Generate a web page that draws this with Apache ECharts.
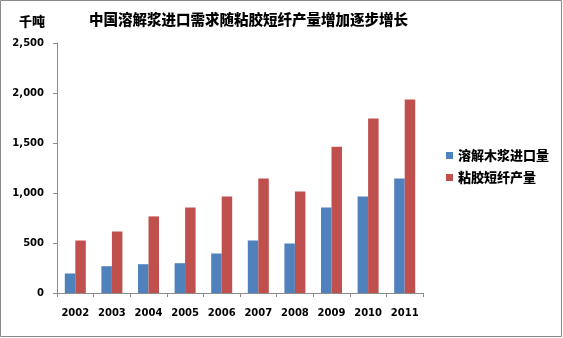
<!DOCTYPE html>
<html>
<head>
<meta charset="utf-8">
<script src="https://cdn.jsdelivr.net/npm/echarts@6/dist/echarts.min.js"></script>
<style>
  html, body { margin: 0; padding: 0; background: #fff; }
  #chart { width: 563px; height: 338px; }
</style>
</head>
<body>
<div id="chart"></div>
<script>
// 年份
const years = ['2002', '2003', '2004', '2005', '2006', '2007', '2008', '2009', '2010', '2011'];
// 溶解木浆进口量（千吨）
const pulpImports = [195, 268, 288, 298, 395, 525, 495, 856, 966, 1146];
// 粘胶短纤产量（千吨）
const viscoseOutput = [525, 615, 766, 856, 966, 1146, 1016, 1463, 1744, 1934];
// 纵轴刻度
const yTicks = [0, 500, 1000, 1500, 2000, 2500];

const cjk = '"Noto Sans CJK SC", sans-serif';
const num = '"DejaVu Sans", sans-serif';
const axisGray = '#8c8c8c';

const chart = echarts.init(document.getElementById('chart'), null, { renderer: 'canvas' });
chart.setOption({
  animation: false,
  backgroundColor: '#fff',
  title: {
    text: '中国溶解浆进口需求随粘胶短纤产量增加逐步增长',
    left: 84,
    top: 7,
    textStyle: { fontFamily: cjk, fontSize: 14.5, fontWeight: 900, color: '#000' }
  },
  graphic: [
    {
      type: 'rect',
      shape: { x: 0.5, y: 0.5, width: 561, height: 336 },
      style: { fill: 'none', stroke: '#8a8a8a', lineWidth: 1 },
      silent: true
    },
    {
      type: 'text',
      left: 19,
      top: 15,
      style: { text: '千吨', font: '900 13px ' + cjk, fill: '#000' }
    }
  ],
  legend: {
    orient: 'vertical',
    left: 446,
    top: 149,
    padding: 0,
    itemWidth: 7,
    itemHeight: 7,
    itemGap: 9,
    icon: 'rect',
    textStyle: { fontFamily: cjk, fontSize: 13, fontWeight: 900, color: '#000' },
    data: ['溶解木浆进口量', '粘胶短纤产量']
  },
  grid: { left: 57, right: 140, top: 43, bottom: 45, containLabel: false },
  xAxis: {
    type: 'category',
    data: years,
    axisLine: { lineStyle: { color: axisGray, width: 1 } },
    axisTick: { show: true, length: 4, lineStyle: { color: axisGray } },
    axisLabel: { fontFamily: num, fontSize: 10, fontWeight: 'bold', color: '#000', margin: 15 }
  },
  yAxis: {
    type: 'value',
    min: yTicks[0],
    max: yTicks[yTicks.length - 1],
    interval: yTicks[1] - yTicks[0],
    axisLine: { show: true, lineStyle: { color: axisGray, width: 1 } },
    axisTick: { show: true, length: 4, lineStyle: { color: axisGray } },
    splitLine: { show: false },
    axisLabel: {
      fontFamily: num, fontSize: 10, fontWeight: 'bold', color: '#000', margin: 13,
      formatter: v => v.toLocaleString('en-US')
    }
  },
  series: [
    {
      name: '溶解木浆进口量',
      type: 'bar',
      data: pulpImports,
      barWidth: 10.5,
      barGap: '0%',
      itemStyle: { color: '#4F81BD' }
    },
    {
      name: '粘胶短纤产量',
      type: 'bar',
      data: viscoseOutput,
      barWidth: 10.5,
      barGap: '0%',
      itemStyle: { color: '#C0504D' }
    }
  ]
});
</script>
</body>
</html>
